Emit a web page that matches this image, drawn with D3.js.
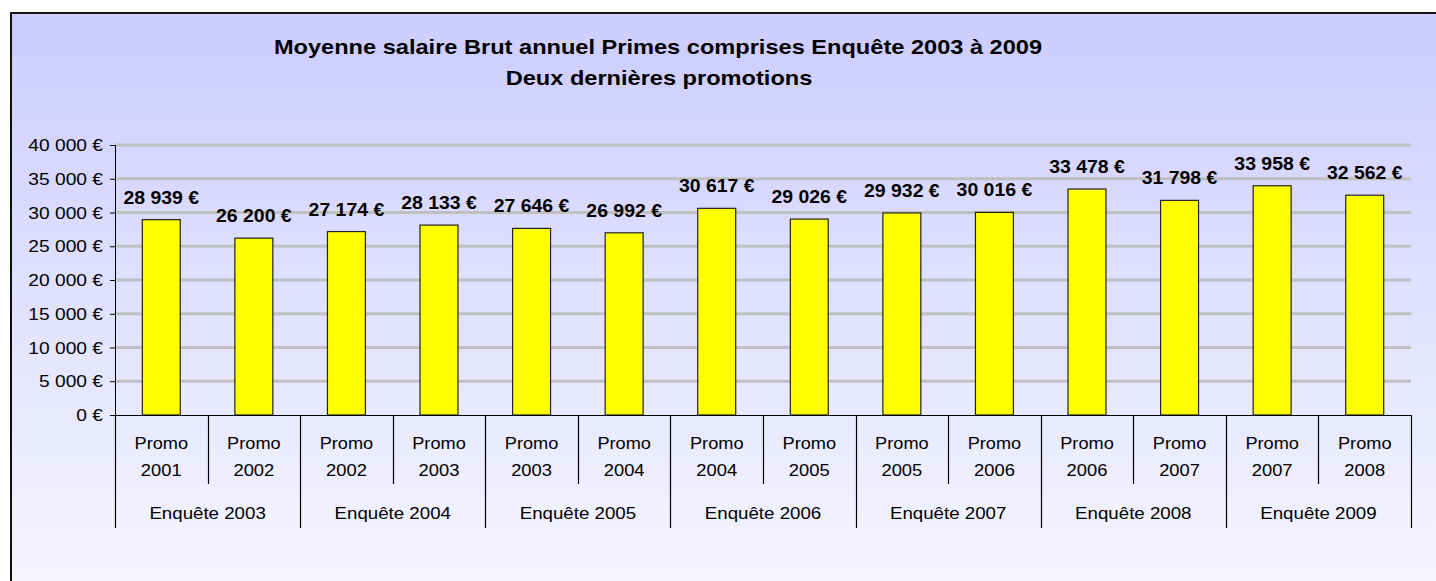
<!DOCTYPE html>
<html>
<head>
<meta charset="utf-8">
<script src="https://cdn.jsdelivr.net/npm/d3@7"></script>
<style>
  html, body { margin: 0; padding: 0; background: #ffffff; }
  svg { display: block; }
  text { font-family: "Liberation Sans", Arial, sans-serif; fill: #000; }
</style>
</head>
<body>
<svg id="chart" width="1436" height="581"></svg>
<script>
const titleLines = ["Moyenne salaire Brut annuel Primes comprises Enquête 2003 à 2009", "Deux dernières promotions"];
const promos = ["Promo 2001","Promo 2002","Promo 2002","Promo 2003","Promo 2003","Promo 2004","Promo 2004","Promo 2005","Promo 2005","Promo 2006","Promo 2006","Promo 2007","Promo 2007","Promo 2008"];
const surveys = ["Enquête 2003","Enquête 2004","Enquête 2005","Enquête 2006","Enquête 2007","Enquête 2008","Enquête 2009"];
const salaries = [28939, 26200, 27174, 28133, 27646, 26992, 30617, 29026, 29932, 30016, 33478, 31798, 33958, 32562];
const yTicks = [0, 5000, 10000, 15000, 20000, 25000, 30000, 35000, 40000];

const svg = d3.select("#chart");
const W = 1436, H = 581;
const M = { left: 115, right: 1411, top: 145, bottom: 415 };

const fmt = v => d3.format(",")(v).replace(/,/g, " ") + " €";

// background
const defs = svg.append("defs");
const grad = defs.append("linearGradient").attr("id", "bg").attr("x1", 0).attr("y1", 0).attr("x2", 0).attr("y2", 1);
grad.append("stop").attr("offset", "0%").attr("stop-color", "#ccccff");
grad.append("stop").attr("offset", "100%").attr("stop-color", "#f6f6ff");
svg.append("rect").attr("x", 10).attr("y", 12).attr("width", W).attr("height", H)
  .attr("fill", "url(#bg)");
svg.append("path").attr("d", `M11,${H} L11,13 L${W},13`).attr("fill", "none")
  .attr("stroke", "#111").attr("stroke-width", 2);

// stretched text helper
function stext(g, x, y, str, size, sx, weight, anchor) {
  return g.append("text")
    .attr("transform", `translate(${x},${y}) scale(${sx},1)`)
    .attr("text-anchor", anchor || "middle")
    .attr("font-size", size)
    .attr("font-weight", weight || "normal")
    .text(str);
}

// title
const tg = svg.append("g");
stext(tg, 658, 54, titleLines[0], 20, 1.18, "bold");
stext(tg, 659, 85, titleLines[1], 20, 1.18, "bold");

// scales
const x = d3.scaleBand().domain(d3.range(salaries.length)).range([M.left, M.right]).paddingInner(0).paddingOuter(0);
const y = d3.scaleLinear().domain([0, 40000]).range([M.bottom, M.top]);

// gridlines
svg.append("g").selectAll("line").data(yTicks.filter(d => d > 0)).join("line")
  .attr("x1", M.left).attr("x2", M.right)
  .attr("y1", d => y(d)).attr("y2", d => y(d))
  .attr("stroke", "#c0c0c0").attr("stroke-width", 3);

// y axis
const yAxis = d3.axisLeft(y).tickValues(yTicks).tickSize(5).tickFormat(fmt);
const yg = svg.append("g").attr("transform", `translate(${M.left},0)`).call(yAxis);
yg.select(".domain").attr("stroke", "#000").attr("d", `M-5,${M.top}.5H0.5V${M.bottom}`);
yg.selectAll(".tick line").attr("stroke", "#000");
yg.selectAll(".tick text").remove();
yTicks.forEach(v => {
  stext(svg, M.left - 12, y(v) + 6, fmt(v), 17, 1.13, "normal", "end");
});

// bars
const bw = x.bandwidth() * 0.41;
svg.append("g").selectAll("rect").data(salaries).join("rect")
  .attr("x", (d, i) => x(i) + (x.bandwidth() - bw) / 2)
  .attr("y", d => y(d))
  .attr("width", bw)
  .attr("height", d => y(0) - y(d))
  .attr("fill", "#ffff00")
  .attr("stroke", "#222").attr("stroke-width", 1.2);

// data labels
const lg = svg.append("g");
salaries.forEach((v, i) => {
  stext(lg, x(i) + x.bandwidth() / 2, y(v) - 16, fmt(v), 18, 1.08, "bold");
});

// x axis baseline
svg.append("line").attr("x1", M.left).attr("x2", M.right + 0.5)
  .attr("y1", M.bottom + 0.5).attr("y2", M.bottom + 0.5)
  .attr("stroke", "#000").attr("stroke-width", 1.2);

// category boundary ticks
const bounds = d3.range(salaries.length + 1);
svg.append("g").selectAll("line").data(bounds).join("line")
  .attr("x1", i => Math.round(i < salaries.length ? x(i) : M.right) + 0.5)
  .attr("x2", i => Math.round(i < salaries.length ? x(i) : M.right) + 0.5)
  .attr("y1", M.bottom)
  .attr("y2", i => (i % 2 === 0 ? 528 : 484))
  .attr("stroke", "#000").attr("stroke-width", 1.2);

// category labels
const cg = svg.append("g");
promos.forEach((p, i) => {
  const parts = p.split(" ");
  const cx = x(i) + x.bandwidth() / 2;
  stext(cg, cx, 449, parts[0], 17, 1.07, "normal");
  stext(cg, cx, 476, parts[1], 17, 1.08, "normal");
});
surveys.forEach((s, j) => {
  const cx = x(2 * j) + x.bandwidth();
  stext(cg, cx, 519, s, 17, 1.1, "normal");
});
</script>
</body>
</html>
